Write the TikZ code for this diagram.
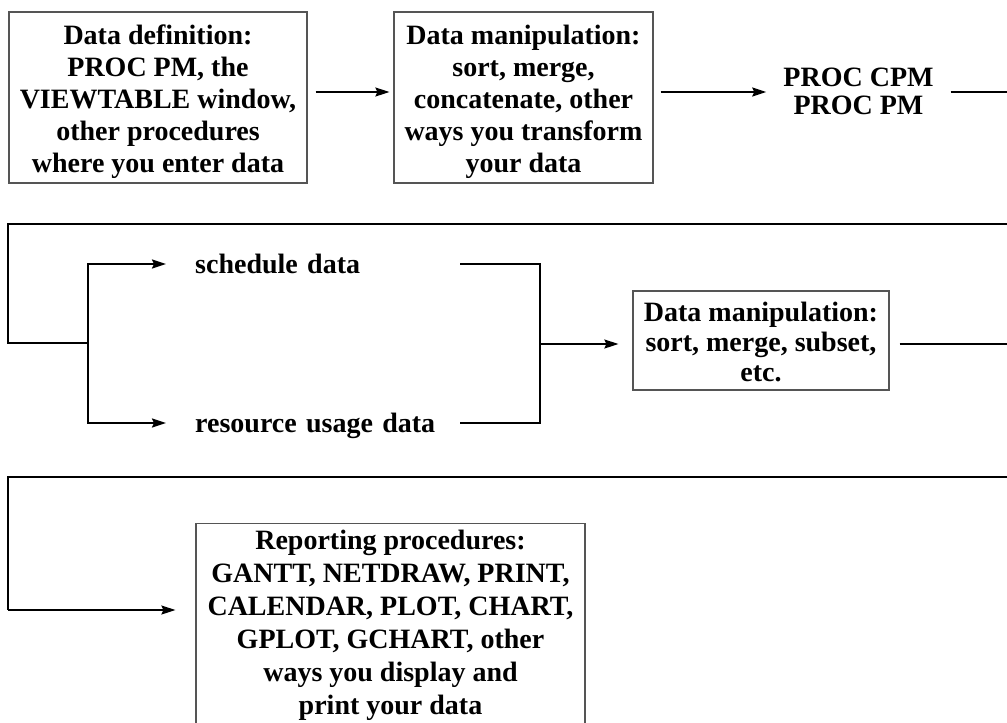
\documentclass[tikz,border=0pt]{standalone}
\usepackage{fontspec}
\setmainfont{Liberation Serif}
\usetikzlibrary{arrows.meta,calc}
\begin{document}
\begin{tikzpicture}[x=1pt,y=-1pt,
  ln/.style={line width=1.8pt},
  arr/.style={ln, -{Stealth[length=14pt,width=9pt,inset=2pt]}},
  box/.style={draw={rgb,255:red,85;green,85;blue,85}, line width=1.2pt, align=center,
    inner xsep=4pt, inner ysep=0pt, font=\bfseries\fontsize{28}{32}\selectfont},
  lbl/.style={inner sep=0pt, anchor=west, text width=265pt, align=left,
    text height=19pt, text depth=0pt, font=\bfseries\fontsize{28}{32}\selectfont}
]
\path[use as bounding box] (0,0) rectangle (1007,723);
\clip (0,0) rectangle (1007,723);

% Row 1
\node[box, minimum width=298pt, minimum height=171pt] (dd) at (158,97.5)
  {\rule{0pt}{29pt}Data definition:\\PROC PM, the\\VIEWTABLE window,\\other procedures\\where you enter data};
\node[box, minimum width=259pt, minimum height=171pt] (dm1) at (523.5,97.5)
  {\rule{0pt}{29pt}Data manipulation:\\sort, merge,\\concatenate, other\\ways you transform\\your data};
\node[align=center, inner xsep=17pt, inner ysep=4pt, font=\bfseries\fontsize{28}{28}\selectfont]
  (proc) at (858.5,91.5) {PROC CPM\\PROC PM};
\coordinate (r1) at (0,92);
\coordinate (exitA) at (1012,92);
\draw[arr, shorten <=8pt, shorten >=4pt] (dd.east |- r1) -- (dm1.west |- r1);
\draw[arr, shorten <=7pt] (dm1.east |- r1) -- (proc.west |- r1);
\draw[ln] (proc.east |- r1) -- (exitA);

% Row 2
\coordinate (wrapA) at (1012,224);
\coordinate (turnA) at (8,343);
\coordinate (split) at (88,343);
\draw[ln] (wrapA) -| (turnA) -- (split);
\node[lbl] (sched) at (195,264) {schedule data};
\node[lbl] (res) at (195,423) {resource usage data};
\draw[arr, shorten >=29pt] (split) |- (sched.west);
\draw[arr, shorten >=29pt] (split) |- (res.west);
\coordinate (jtop) at (540,264);
\coordinate (jbot) at (540,423);
\coordinate (merge) at (540,344);
\draw[ln] (sched.east) -- (jtop) -- (jbot) -- (res.east);
\node[box, font=\bfseries\fontsize{28}{30}\selectfont, minimum width=256pt, minimum height=99pt]
  (dm2) at (761,340.5) {\rule{0pt}{22pt}Data manipulation:\\sort, merge, subset,\\etc.};
\draw[arr, shorten >=14pt] (merge) -- (dm2.west |- merge);
\coordinate (exitB) at (1012,344);
\draw[ln, shorten <=10pt] (dm2.east |- merge) -- (exitB);

% Row 3
\coordinate (wrapC) at (1012,477);
\coordinate (turnC) at (8,610);
\node[box, font=\bfseries\fontsize{28}{33}\selectfont, anchor=north, inner ysep=6pt,
  minimum width=389pt] (rep) at (390.5,523)
  {Reporting procedures:\\GANTT, NETDRAW, PRINT,\\CALENDAR, PLOT, CHART,\\GPLOT, GCHART, other\\ways you display and\\print your data};
\draw[ln] (wrapC) -| (turnC);
\draw[arr, shorten >=20pt] (turnC) -- (rep.west |- turnC);
\end{tikzpicture}
\end{document}
